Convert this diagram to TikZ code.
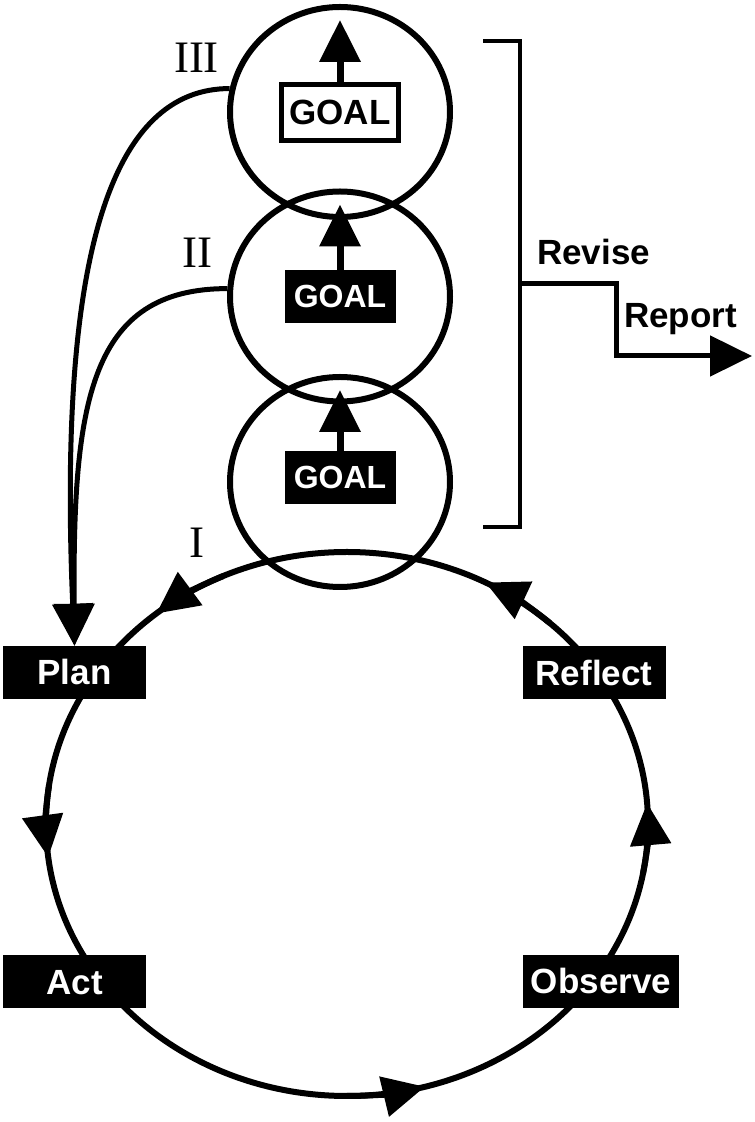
\documentclass[tikz,border=0pt]{standalone}
\usepackage{fontspec}
\setsansfont{Liberation Sans}
\newfontfamily\numfont{Liberation Serif}
\usetikzlibrary{arrows.meta,shapes.geometric}

\begin{document}
\begin{tikzpicture}[x=1pt, y=1pt,
    tip/.style={-{Triangle[length=42pt,width=40pt]}},
    cyc/.style={line width=6pt},
    link/.style={line width=5pt},
    ring/.style={draw, ellipse, line width=6pt, minimum width=220pt, minimum height=210pt},
    stage/.style={fill=black, text=white, font=\sffamily\bfseries\fontsize{35}{40}\selectfont,
        minimum width=143pt, minimum height=53pt, inner xsep=8pt, text height=25pt, text depth=0pt},
    goal/.style={fill=black, text=white, font=\sffamily\bfseries\fontsize{32}{38}\selectfont,
        minimum width=111pt, minimum height=53pt, inner xsep=8pt, text height=23pt, text depth=0pt},
    lab/.style={font=\sffamily\bfseries\fontsize{35}{40}\selectfont, inner sep=0pt},
    num/.style={font=\numfont\fontsize{45}{50}\selectfont, inner sep=0pt}]
    \useasboundingbox (0,0) rectangle (755,1122);

    % the cycle
    \coordinate (ctr) at (347,298);
    \draw[cyc] (ctr) ellipse (301 and 272);
    \foreach \a in {4.4, 62.6, 129.3, 187, 285}
        \draw[cyc, tip] (ctr) ++(\a-15:301 and 272) arc (\a-15:\a:301 and 272);

    \node[stage] (plan) at (74.5,449.5) {Plan};
    \node[stage] (act) at (74.5,140) {Act};
    \node[stage] (observe) at (601,140.5) {Observe};
    \node[stage] (reflect) at (594,449) {Reflect};

    % goals
    \foreach \i/\y in {1/640, 2/825.5, 3/1010}
        \node[ring] (g\i) at (340,\y) {};
    \node[goal] (goal1) at (340,644.5) {GOAL};
    \node[goal] (goal2) at (340,825.5) {GOAL};
    \node[goal, draw, fill=white, text=black, line width=5pt, minimum width=116pt, minimum height=56pt,
        font=\sffamily\bfseries\fontsize{35}{40}\selectfont, text height=25pt] (goal3) at (340,1009.5) {GOAL};
    \foreach \i in {1,2,3}
        \draw[line width=7pt, tip] (goal\i.north) -- ([yshift=92pt]g\i.center);

    \draw[link, tip] (g3.168) .. controls +(-117,0) and +(-17,395) .. (plan.north);
    \draw[link, tip] (g2.176) .. controls +(-137,0) and +(-2,245) .. (plan.north);

    \node[num] (n3) at (196.5,1064) {III};
    \node[num] (n2) at (197,869) {II};
    \node[num] (n1) at (196.5,579) {I};

    % bracket and report
    \draw[line width=4.5pt] (483,1081) -- (520,1081) -- (520,595) -- (483,595);
    \coordinate (rev) at (520,838);
    \coordinate (out) at (752,766);
    \draw[link, tip] (rev) -| (616,766) -- (out);
    \node[lab, anchor=base west] (revise) at (537,857) {Revise};
    \node[lab, anchor=base west] (report) at (624,794) {Report};
\end{tikzpicture}
\end{document}
